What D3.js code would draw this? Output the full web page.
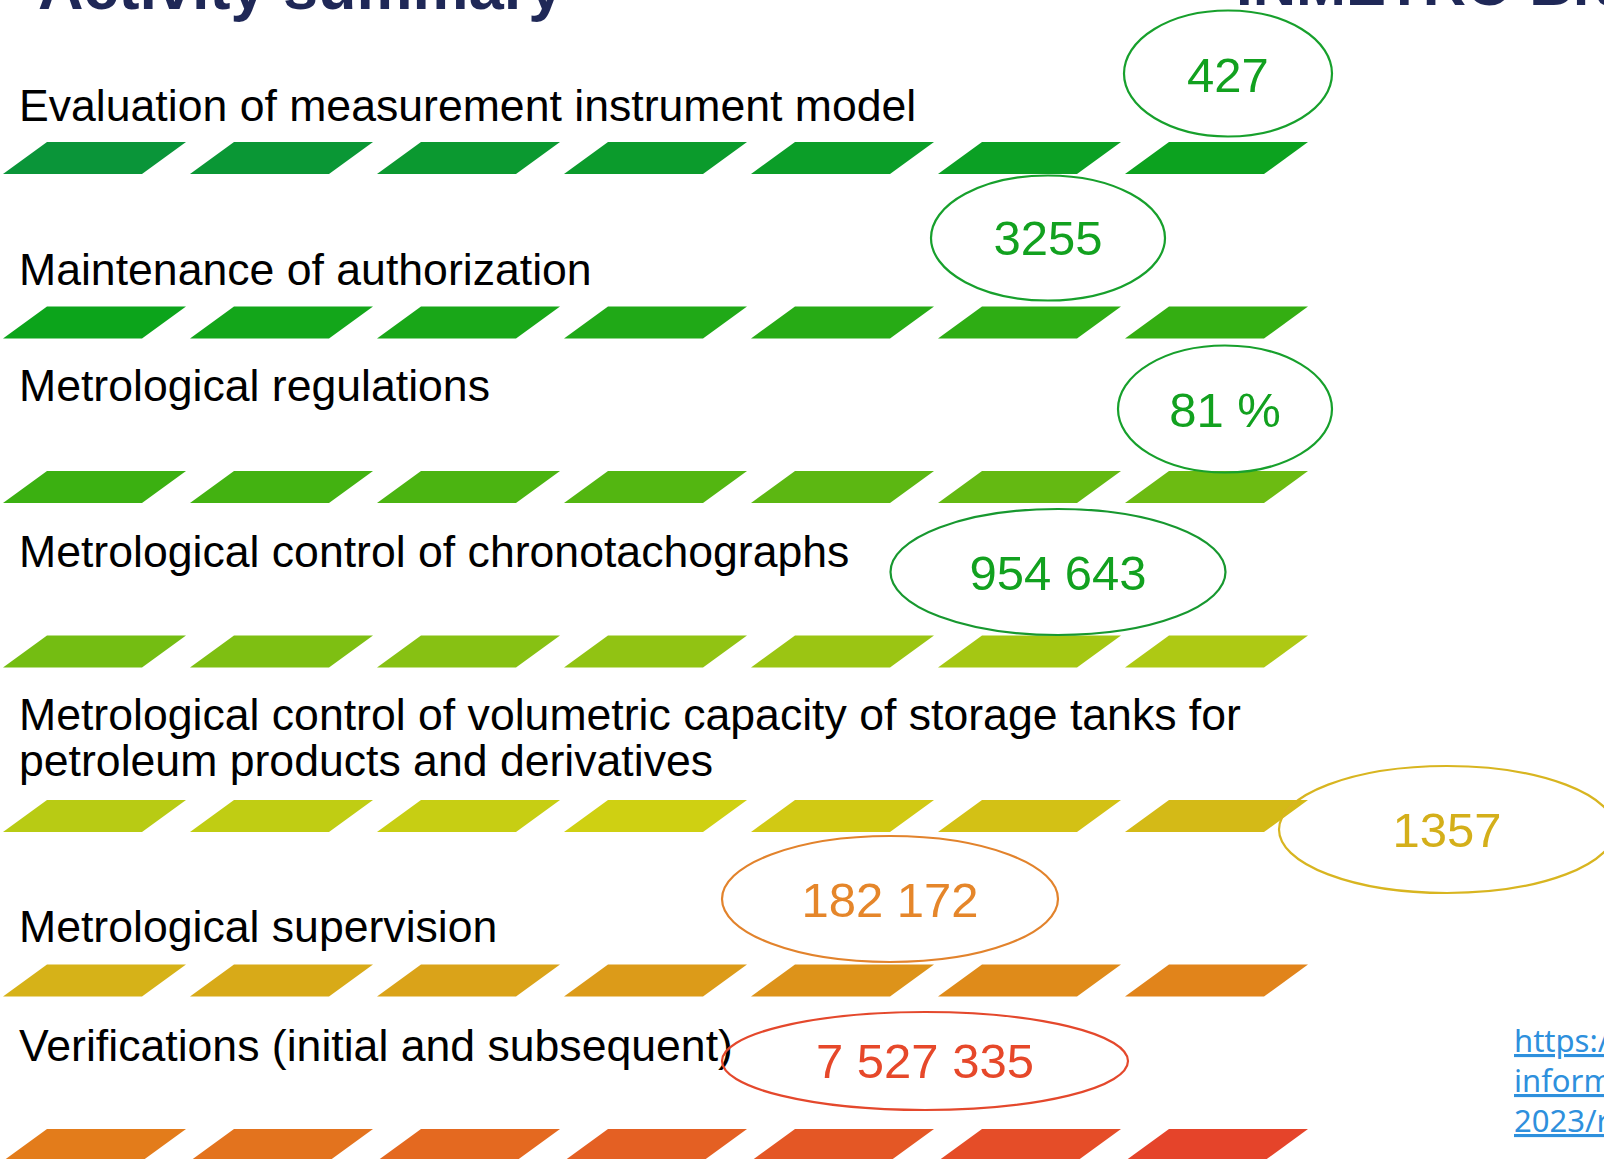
<!DOCTYPE html>
<html>
<head>
<meta charset="utf-8">
<script src="https://cdn.jsdelivr.net/npm/d3@7"></script>
<style>
  body { margin: 0; background: #fff; }
  svg { display: block; }
</style>
</head>
<body>
<div id="chart"></div>
<script>
// activity categories, top to bottom
const categories = [
  ["Evaluation of measurement instrument model"],
  ["Maintenance of authorization"],
  ["Metrological regulations"],
  ["Metrological control of chronotachographs"],
  ["Metrological control of volumetric capacity of storage tanks for", "petroleum products and derivatives"],
  ["Metrological supervision"],
  ["Verifications (initial and subsequent)"]
];
// the figures shown in the bubbles
const valueLabels = ["427", "3255", "81 %", "954 643", "1357", "182 172", "7 527 335"];
const segmentsPerRow = 7;

const sourceLines = [
  "https://www.gov.br/inmetro/pt-br/acesso-a-",
  "informacao/institucional/relatorio-de-gestao-",
  "2023/relatorio-de-gestao-2023.pdf"
];

// layout (kept apart from the data)
const labelY = [121, 285, 401, 567, [730, 776], 942, 1061];
const bubbles = [
  { cx: 1228, cy: 73.5, rx: 104, ry: 63, ty: 92 },
  { cx: 1048, cy: 238, rx: 117, ry: 62.5, ty: 255 },
  { cx: 1225, cy: 409, rx: 107, ry: 63.5, ty: 427 },
  { cx: 1058, cy: 572, rx: 167.5, ry: 63, ty: 590 },
  { cx: 1447, cy: 829.5, rx: 168, ry: 63.5, ty: 847 },
  { cx: 890, cy: 899, rx: 168, ry: 63, ty: 917 },
  { cx: 925, cy: 1061, rx: 203, ry: 49, ty: 1078 }
];
const bubbleStroke = ["#17a02c", "#17a02c", "#17a02c", "#17982f", "#d8b520", "#e2832c", "#e4482c"];
const bubbleText = ["#12a11f", "#12a11f", "#12a11f", "#12a11f", "#d4af1a", "#e5862a", "#e6482a"];

const W = 1604, H = 1159;

const svg = d3.select("#chart").append("svg")
  .attr("width", W)
  .attr("height", H)
  .style("background", "#fff");

// row / segment scales
const y = d3.scaleLinear().domain([0, categories.length - 1]).range([142, 1129]);
const x = d3.scaleLinear().domain([0, segmentsPerRow - 1]).range([3, 1125]);
const segH = 32, segW = 140, slant = 44;

// colour runs through all pieces, green -> yellow -> red
const total = categories.length * segmentsPerRow;
const color = d3.scaleLinear()
  .domain([0, 7, 14, 21, 28, 31, 35, 42, total - 1])
  .range(["#0a9539", "#0ca41b", "#3bb011", "#74bd12", "#b8cb14", "#cfd012", "#d6b218", "#e37c1b", "#e5442a"])
  .interpolate(d3.interpolateRgb);

const pieces = [];
categories.forEach((c, r) => {
  for (let s = 0; s < segmentsPerRow; s++) pieces.push({ r: r, s: s, k: r * segmentsPerRow + s });
});

svg.append("g").selectAll("path")
  .data(pieces)
  .enter().append("path")
  .attr("d", d => {
    const x0 = x(d.s), y0 = y(d.r);
    return "M" + x0 + "," + (y0 + segH) +
      "L" + (x0 + slant) + "," + y0 +
      "L" + (x0 + slant + segW - 1) + "," + y0 +
      "L" + (x0 + segW - 1) + "," + (y0 + segH) + "Z";
  })
  .attr("fill", d => color(d.k));

// titles (cut off by the top edge, as in the slide)
svg.append("text")
  .attr("x", 38).attr("y", 9)
  .attr("font-family", "Liberation Sans, Arial, sans-serif")
  .attr("font-weight", "bold")
  .attr("font-size", 63)
  .attr("fill", "#1f2857")
  .text("Activity summary");

svg.append("text")
  .attr("x", 1236).attr("y", 5)
  .attr("font-family", "Liberation Sans, Arial, sans-serif")
  .attr("font-weight", "bold")
  .attr("font-size", 60)
  .attr("fill", "#1f2857")
  .text("INMETRO Brazil");

// category labels
const labels = svg.append("g")
  .attr("font-family", "Liberation Sans, Arial, sans-serif")
  .attr("font-size", 44.6)
  .attr("fill", "#000");

categories.forEach((lines, i) => {
  lines.forEach((line, j) => {
    const ly = Array.isArray(labelY[i]) ? labelY[i][j] : labelY[i];
    labels.append("text")
      .attr("x", 19)
      .attr("y", ly)
      .text(line);
  });
});

// value bubbles
const bub = svg.append("g").selectAll("g")
  .data(valueLabels)
  .enter().append("g");

bub.append("ellipse")
  .attr("cx", (d, i) => bubbles[i].cx)
  .attr("cy", (d, i) => bubbles[i].cy)
  .attr("rx", (d, i) => bubbles[i].rx)
  .attr("ry", (d, i) => bubbles[i].ry)
  .attr("fill", "none")
  .attr("stroke", (d, i) => bubbleStroke[i])
  .attr("stroke-width", 2.2);

bub.append("text")
  .attr("x", (d, i) => bubbles[i].cx)
  .attr("y", (d, i) => bubbles[i].ty)
  .attr("text-anchor", "middle")
  .attr("font-family", "Liberation Sans, Arial, sans-serif")
  .attr("font-size", 49)
  .attr("fill", (d, i) => bubbleText[i])
  .text(d => d);

// source link, bottom right
svg.append("g")
  .selectAll("text")
  .data(sourceLines)
  .enter().append("text")
  .attr("x", 1514)
  .attr("y", (d, i) => 1052 + i * 40)
  .attr("font-family", "Noto Sans, Open Sans, sans-serif")
  .attr("font-size", 31)
  .attr("fill", "#2e90dd")
  .attr("text-decoration", "underline")
  .text(d => d);
</script>
</body>
</html>
